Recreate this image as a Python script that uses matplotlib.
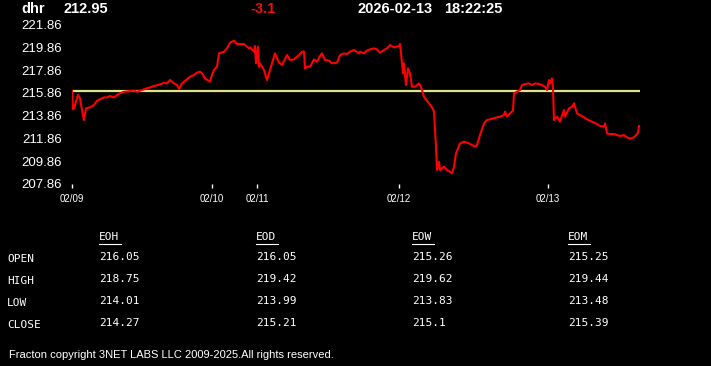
import matplotlib
matplotlib.use('Agg')
from matplotlib import pyplot as plt
from matplotlib.lines import Line2D

# quote header
symbol = 'dhr'
last_price = '212.95'
change = '-3.1'
stamp_date = '2026-02-13'
stamp_time = '18:22:25'
ref_level = 216.05  # previous close

# intraday trace (bar index, price)
bars = [0, 1, 2, 6, 8, 10, 12, 14, 18, 22, 25, 28, 32, 35, 38, 42, 45, 48, 52, 55,
        62, 65, 68, 75, 82, 88, 92, 95, 98, 102, 105, 107, 110, 115, 118, 122, 125,
        128, 130, 133, 138, 140, 142, 145, 147, 152, 155, 158, 162, 165, 168, 172,
        175, 177, 178, 182, 183, 184, 186, 187, 188, 192, 195, 198, 202, 203, 207,
        210, 215, 218, 222, 227, 230, 232, 233, 235, 238, 242, 245, 248, 250, 253,
        257, 260, 265, 268, 272, 275, 278, 282, 287, 288, 292, 295, 298, 302, 305,
        308, 312, 315, 318, 322, 325, 327, 328, 329, 331, 332, 334, 336, 338, 340,
        343, 347, 348, 350, 352, 355, 360, 362, 364, 365, 367, 368, 372, 375, 378,
        380, 382, 384, 388, 392, 397, 400, 403, 405, 408, 412, 415, 418, 422, 425,
        428, 432, 433, 435, 438, 441, 442, 445, 448, 450, 453, 457, 460, 463, 467,
        470, 473, 475, 477, 478, 480, 481, 482, 485, 488, 492, 493, 497, 500, 502,
        505, 508, 512, 515, 518, 522, 525, 528, 532, 533, 535, 538, 542, 545, 548,
        552, 555, 558, 562, 564, 566, 567]
prices = [216.03, 214.42, 214.51, 215.68, 215.39, 214.36, 213.48, 214.51, 214.60, 214.80,
          215.18, 215.30, 215.47, 215.47, 215.59, 215.47, 215.68, 215.83, 215.97, 216.00,
          216.06, 215.97, 216.06, 216.27, 216.47, 216.62, 216.76, 216.70, 217.00, 216.70,
          216.56, 216.21, 216.70, 217.06, 217.29, 217.44, 217.64, 217.73, 217.58, 217.14,
          216.85, 217.44, 217.88, 218.17, 219.34, 219.49, 219.78, 220.28, 220.45, 220.16,
          220.16, 220.16, 219.93, 219.78, 219.87, 219.49, 219.99, 218.46, 219.93, 218.17,
          218.46, 217.88, 217.00, 217.88, 219.05, 219.34, 218.52, 218.32, 219.19, 218.76,
          218.81, 219.19, 219.49, 219.49, 218.02, 218.17, 218.17, 218.81, 218.61, 219.11,
          219.34, 218.76, 218.70, 218.46, 218.52, 219.19, 219.34, 219.28, 219.49, 219.64,
          219.34, 219.49, 219.34, 219.58, 219.69, 219.78, 219.69, 219.40, 219.64, 219.78,
          220.07, 219.87, 219.93, 219.99, 220.16, 219.34, 217.58, 218.46, 216.56, 218.02,
          217.58, 216.41, 216.41, 216.70, 216.56, 216.12, 215.53, 215.18, 214.60, 214.22,
          211.14, 209.09, 209.82, 209.09, 209.38, 209.09, 208.94, 208.80, 209.38, 210.55,
          211.43, 211.58, 211.43, 211.29, 211.14, 211.29, 212.16, 213.19, 213.48, 213.54,
          213.63, 213.72, 213.78, 213.92, 214.22, 213.78, 214.07, 214.30, 215.83, 215.97,
          216.12, 216.56, 216.65, 216.70, 216.56, 216.70, 216.65, 216.56, 216.41, 216.12,
          217.00, 216.70, 217.14, 216.27, 213.48, 213.78, 213.34, 214.36, 213.78, 214.51,
          214.65, 214.95, 214.07, 213.92, 213.72, 213.54, 213.42, 213.25, 213.13, 212.96,
          212.90, 213.19, 212.31, 212.25, 212.25, 212.16, 212.08, 212.16, 211.96, 211.84,
          211.96, 212.14, 212.37, 212.95]

day_ticks = [0, 140, 185, 327, 476]
day_labels = ['02/09', '02/10', '02/11', '02/12', '02/13']
y_ticks = [207.86, 209.86, 211.86, 213.86, 215.86, 217.86, 219.86, 221.86]

# summary table
col_names = ['EOH', 'EOD', 'EOW', 'EOM']
row_names = ['OPEN', 'HIGH', 'LOW', 'CLOSE']
eoh = ['216.05', '218.75', '214.01', '214.27']
eod = ['216.05', '219.42', '213.99', '215.21']
eow = ['215.26', '219.62', '213.83', '215.1']
eom = ['215.25', '219.44', '213.48', '215.39']

W, H = 711, 366
fig = plt.figure(figsize=(W / 100, H / 100), dpi=100, facecolor='black')

def fx(px):
    return px / W

def fy(py):
    return 1 - py / H

ax = fig.add_axes([fx(72), fy(184), (640 - 72) / W, (184 - 24.7) / H])
ax.set_facecolor('black')
ax.plot(bars, prices, color='#ff0000', lw=1.5, solid_joinstyle='round', zorder=3)
ax.axhline(ref_level, color='#dfe38a', lw=1.6, zorder=2)
ax.set_xlim(0, 568)
ax.set_ylim(y_ticks[0], y_ticks[-1])
for s in ax.spines.values():
    s.set_visible(False)
ax.set_yticks(y_ticks)
ax.set_yticklabels(['%.2f' % v for v in y_ticks], fontfamily='Liberation Sans', fontsize=9.5)
ax.tick_params(axis='y', length=0, pad=7.5, colors='white')
ax.set_xticks(day_ticks)
ax.set_xticklabels(day_labels, fontfamily='Liberation Sans', fontsize=7)
ax.tick_params(axis='x', length=3, width=1, pad=4, colors='white', direction='out')

hdr = dict(fontfamily='Liberation Sans', fontsize=10.5, fontweight='bold', va='center')
fig.text(fx(21), fy(9), symbol, color='white', **hdr)
fig.text(fx(63), fy(9), last_price, color='white', **hdr)
fig.text(fx(250), fy(9), change, color='#e81010', **hdr)
fig.text(fx(358), fy(9), stamp_date, color='white', **hdr)
fig.text(fx(444), fy(9), stamp_time, color='white', **hdr)

mono = dict(fontfamily='DejaVu Sans Mono', fontsize=8, color='white', va='center')
col_x = [99, 256, 412, 568]
row_y = [259, 281, 303, 325]
cols = [eoh, eod, eow, eom]
for cx, name, vals in zip(col_x, col_names, cols):
    fig.text(fx(cx), fy(237), name, **mono)
    fig.add_artist(Line2D([fx(cx), fx(cx + 22)], [fy(243.5), fy(243.5)],
                          color='white', lw=0.8, transform=fig.transFigure))
    for ry, v in zip(row_y, vals):
        fig.text(fx(cx), fy(ry - 1.5), v, **mono)
for ry, name in zip(row_y, row_names):
    fig.text(fx(7), fy(ry), name, **mono)

fig.text(fx(9), fy(355), 'Fracton copyright 3NET LABS LLC 2009-2025.All rights reserved.',
         fontfamily='Liberation Sans', fontsize=8, color='white', va='center')

fig.savefig('out.png', dpi=100, facecolor='black')
